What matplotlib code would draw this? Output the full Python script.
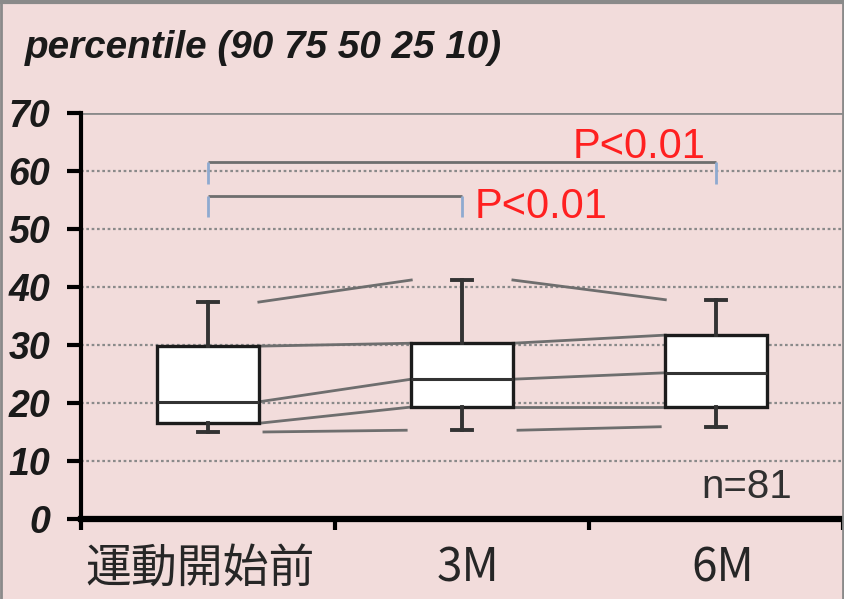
import matplotlib.pyplot as plt
from matplotlib.lines import Line2D

# percentile values per period (90, 75, 50, 25, 10)
periods = ['運動開始前', '3M', '6M']
p90 = [37.4, 41.2, 37.8]
p75 = [29.8, 30.3, 31.7]
p50 = [20.2, 24.1, 25.2]
p25 = [16.5, 19.3, 19.3]
p10 = [15.0, 15.3, 15.9]

y_ticks = [0, 10, 20, 30, 40, 50, 60, 70]
sig_labels = ['P<0.01', 'P<0.01']
n_label = 'n=81'

bg = '#f2dcdb'
pos = [0.5, 1.5, 2.5]
half = 0.2

fig = plt.figure(figsize=(8.44, 5.99), dpi=100, facecolor=bg)
ax = fig.add_axes([0.096, 0.1336, 0.903, 0.6778], facecolor=bg)

stats = []
for i in range(3):
    stats.append({'whislo': p10[i], 'q1': p25[i], 'med': p50[i],
                  'q3': p75[i], 'whishi': p90[i], 'fliers': []})

ax.bxp(stats, positions=pos, widths=2 * half, capwidths=0.08,
       patch_artist=True, showfliers=False, zorder=4,
       boxprops=dict(facecolor='white', edgecolor='#1c1c1c', linewidth=2.4),
       medianprops=dict(color='#333333', linewidth=2.2),
       whiskerprops=dict(color='#333333', linewidth=2.8),
       capprops=dict(color='#333333', linewidth=2.8))

# lines joining the same percentile between neighbouring boxes
for vals, inset in [(p90, 0.0), (p75, 0.0), (p50, 0.0), (p25, 0.0), (p10, 0.02)]:
    for i in range(2):
        ax.plot([pos[i] + half + inset, pos[i + 1] - half - inset],
                [vals[i], vals[i + 1]], color='#6e6e6e', lw=2, zorder=3)

# grid
for y in y_ticks[1:-1]:
    ax.axhline(y, color='#8a8a8a', lw=1.6, ls=(0, (1.2, 1.2)), zorder=1)
ax.axhline(70, color='#8a8a8a', lw=2, zorder=1)

# significance brackets
brackets = [(0.5, 2.5, 61.6, 57.8), (0.5, 1.5, 55.7, 52.1)]
for x0, x1, ytop, ybot in brackets:
    ax.plot([x0, x1], [ytop, ytop], color='#6e6e6e', lw=2, zorder=3,
            solid_capstyle='butt')
    for xx in (x0, x1):
        ax.plot([xx, xx], [ytop, ybot], color='#8faad0', lw=2, zorder=3,
                solid_capstyle='butt')
ax.text(1.935, 62.2, sig_labels[0], color='#ff2020', fontsize=30,
        family='Liberation Sans', va='baseline', ha='left')
ax.text(1.549, 51.9, sig_labels[1], color='#ff2020', fontsize=30,
        family='Liberation Sans', va='baseline', ha='left')

ax.text(2.442, 3.6, n_label, color='#303030', fontsize=29,
        family='Liberation Sans', va='baseline', ha='left')

ax.set_xlim(0, 3)
ax.set_ylim(0, 70)

ax.set_yticks(y_ticks)
ax.set_yticklabels([str(v) for v in y_ticks], family='Liberation Sans',
                   fontweight='bold', fontstyle='italic', fontsize=27,
                   color='#1a1a1a')
ax.tick_params(axis='y', length=10, width=3, pad=12, color='black')

ax.set_xticks([0, 1, 2, 3])
ax.set_xticklabels([''] * 4)
ax.set_xticks([0.47, 1.525, 2.525], minor=True)
ax.set_xticklabels(periods, minor=True, family='Noto Sans CJK JP',
                   fontsize=33, color='#262626')
ax.tick_params(axis='x', which='major', length=8, width=3, color='black')
ax.tick_params(axis='x', which='minor', length=0, pad=18)

for side in ('top', 'right'):
    ax.spines[side].set_visible(False)
ax.spines['left'].set_linewidth(3)
ax.spines['bottom'].set_linewidth(4.5)
ax.spines['left'].set_zorder(5)
ax.spines['bottom'].set_zorder(5)

fig.text(0.03, 0.92, 'percentile (90 75 50 25 10)', family='Liberation Sans',
         fontweight='bold', fontstyle='italic', fontsize=27.8, color='#1a1a1a',
         va='center', ha='left')

# frame around the picture
fig.add_artist(Line2D([0, 1], [0.996, 0.996], transform=fig.transFigure,
                      color='#8a8a8a', lw=3))
fig.add_artist(Line2D([0.001, 0.001], [0, 1], transform=fig.transFigure,
                      color='#8a8a8a', lw=2))
fig.add_artist(Line2D([0.999, 0.999], [0, 1], transform=fig.transFigure,
                      color='#8a8a8a', lw=2))

fig.savefig('out.png', dpi=100, facecolor=bg)
